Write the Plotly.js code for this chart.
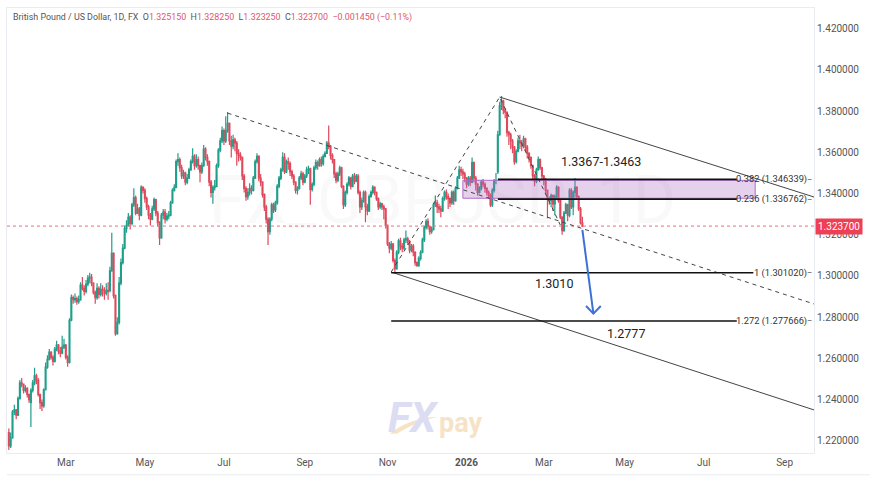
<!DOCTYPE html>
<html><head><meta charset="utf-8">
<script src="https://cdn.plot.ly/plotly-3.0.1.min.js"></script>
<style>html,body{margin:0;padding:0;background:#fff}#c{width:870px;height:481px}</style>
</head><body><div id="c"></div>
<script>
const firstDate = '2025-01-17';
const closes = [
1.2170,1.2210,1.2335,1.2345,1.2320,1.2400,1.2476,1.2470,1.2440,1.2450,
1.2420,1.2395,1.2440,1.2476,1.2510,1.2490,1.2420,1.2380,1.2365,1.2442,
1.2553,1.2590,1.2625,1.2600,1.2580,1.2640,1.2660,1.2630,1.2620,1.2650,
1.2660,1.2600,1.2575,1.2780,1.2890,1.2880,1.2885,1.2870,1.2880,1.2950,
1.2935,1.2920,1.2955,1.2985,1.2990,1.2960,1.2915,1.2890,1.2935,1.2905,
1.2930,1.2925,1.2910,1.2925,1.2920,1.3020,1.3105,1.2900,1.2715,1.2770,
1.2960,1.3060,1.3130,1.3225,1.3240,1.3280,1.3250,1.3340,1.3375,1.3300,
1.3320,1.3290,1.3425,1.3410,1.3370,1.3330,1.3290,1.3270,1.3320,1.3365,
1.3300,1.3255,1.3180,1.3290,1.3305,1.3270,1.3285,1.3290,1.3350,1.3410,
1.3425,1.3550,1.3560,1.3520,1.3480,1.3495,1.3450,1.3470,1.3510,1.3550,
1.3575,1.3530,1.3560,1.3530,1.3500,1.3530,1.3610,1.3570,1.3550,1.3450,
1.3400,1.3425,1.3430,1.3530,1.3605,1.3650,1.3700,1.3650,1.3700,1.3735,
1.3650,1.3625,1.3655,1.3640,1.3590,1.3580,1.3570,1.3480,1.3420,1.3380,
1.3400,1.3420,1.3410,1.3470,1.3550,1.3575,1.3470,1.3450,1.3390,1.3330,
1.3270,1.3210,1.3270,1.3340,1.3315,1.3350,1.3430,1.3470,1.3510,1.3570,
1.3500,1.3550,1.3540,1.3500,1.3480,1.3450,1.3410,1.3420,1.3470,1.3490,
1.3450,1.3480,1.3510,1.3515,1.3415,1.3440,1.3520,1.3545,1.3530,1.3560,
1.3540,1.3575,1.3590,1.3640,1.3625,1.3580,1.3560,1.3490,1.3460,1.3490,
1.3520,1.3430,1.3340,1.3400,1.3440,1.3470,1.3430,1.3480,1.3455,1.3480,
1.3400,1.3330,1.3360,1.3400,1.3330,1.3310,1.3380,1.3400,1.3425,1.3400,
1.3370,1.3330,1.3345,1.3330,1.3320,1.3240,1.3150,1.3130,1.3150,1.3070,
1.3030,1.3110,1.3165,1.3140,1.3130,1.3170,1.3175,1.3160,1.3120,1.3140,
1.3110,1.3060,1.3045,1.3080,1.3110,1.3170,1.3230,1.3260,1.3235,1.3210,
1.3220,1.3340,1.3350,1.3330,1.3320,1.3310,1.3370,1.3400,1.3380,1.3370,
1.3350,1.3400,1.3360,1.3420,1.3470,1.3510,1.3500,1.3490,1.3470,1.3440,
1.3470,1.3450,1.3545,1.3470,1.3440,1.3400,1.3420,1.3450,1.3440,1.3420,
1.3400,1.3385,1.3340,1.3410,1.3455,1.3455,1.3680,1.3820,1.3845,1.3800,
1.3790,1.3690,1.3680,1.3650,1.3620,1.3550,1.3600,1.3650,1.3640,1.3625,
1.3660,1.3620,1.3590,1.3570,1.3530,1.3480,1.3455,1.3510,1.3560,1.3520,
1.3480,1.3460,1.3410,1.3370,1.3360,1.3385,1.3345,1.3380,1.3425,1.3360,
1.3280,1.3215,1.3300,1.3340,1.3290,1.3410,1.3330,1.3400,1.3425,1.3380,1.3320,1.3252,1.3237];
const opens = [
1.2235,1.2170,1.2210,1.2335,1.2345,1.2320,1.2400,1.2476,1.2470,1.2440,
1.2450,1.2420,1.2380,1.2440,1.2476,1.2510,1.2490,1.2420,1.2380,1.2365,
1.2442,1.2553,1.2590,1.2625,1.2600,1.2580,1.2640,1.2660,1.2630,1.2620,
1.2650,1.2660,1.2600,1.2575,1.2780,1.2890,1.2880,1.2885,1.2870,1.2880,
1.2950,1.2935,1.2920,1.2955,1.2985,1.2990,1.2960,1.2915,1.2890,1.2935,
1.2905,1.2930,1.2925,1.2910,1.2925,1.2925,1.3020,1.3105,1.2900,1.2715,
1.2770,1.2960,1.3060,1.3130,1.3225,1.3240,1.3280,1.3250,1.3340,1.3375,
1.3300,1.3320,1.3290,1.3425,1.3410,1.3370,1.3330,1.3290,1.3270,1.3320,
1.3365,1.3300,1.3255,1.3180,1.3290,1.3305,1.3270,1.3285,1.3290,1.3350,
1.3410,1.3425,1.3550,1.3560,1.3520,1.3480,1.3495,1.3450,1.3470,1.3510,
1.3550,1.3575,1.3530,1.3560,1.3530,1.3500,1.3530,1.3610,1.3570,1.3550,
1.3450,1.3400,1.3425,1.3430,1.3530,1.3605,1.3650,1.3700,1.3650,1.3700,
1.3735,1.3650,1.3625,1.3655,1.3640,1.3590,1.3580,1.3570,1.3480,1.3420,
1.3380,1.3400,1.3420,1.3410,1.3470,1.3550,1.3575,1.3470,1.3450,1.3390,
1.3330,1.3270,1.3210,1.3270,1.3340,1.3315,1.3350,1.3430,1.3470,1.3510,
1.3570,1.3500,1.3550,1.3540,1.3500,1.3480,1.3450,1.3410,1.3420,1.3470,
1.3490,1.3450,1.3480,1.3510,1.3515,1.3415,1.3440,1.3520,1.3545,1.3530,
1.3560,1.3540,1.3575,1.3590,1.3640,1.3625,1.3580,1.3560,1.3490,1.3460,
1.3490,1.3520,1.3430,1.3340,1.3400,1.3440,1.3470,1.3430,1.3480,1.3455,
1.3480,1.3400,1.3330,1.3360,1.3400,1.3330,1.3310,1.3380,1.3400,1.3425,
1.3400,1.3370,1.3330,1.3345,1.3330,1.3320,1.3240,1.3150,1.3130,1.3150,
1.3070,1.3030,1.3110,1.3165,1.3140,1.3130,1.3170,1.3175,1.3160,1.3120,
1.3140,1.3110,1.3060,1.3045,1.3080,1.3110,1.3170,1.3230,1.3260,1.3235,
1.3210,1.3220,1.3340,1.3350,1.3330,1.3320,1.3310,1.3370,1.3400,1.3380,
1.3370,1.3350,1.3400,1.3360,1.3420,1.3470,1.3510,1.3500,1.3490,1.3470,
1.3440,1.3470,1.3450,1.3545,1.3470,1.3440,1.3400,1.3420,1.3450,1.3440,
1.3420,1.3400,1.3385,1.3340,1.3410,1.3455,1.3500,1.3680,1.3820,1.3845,
1.3800,1.3790,1.3690,1.3680,1.3650,1.3620,1.3550,1.3600,1.3650,1.3640,
1.3625,1.3660,1.3620,1.3590,1.3570,1.3530,1.3480,1.3455,1.3510,1.3560,
1.3520,1.3480,1.3460,1.3410,1.3370,1.3360,1.3385,1.3345,1.3380,1.3425,
1.3360,1.3280,1.3215,1.3300,1.3340,1.3290,1.3410,1.3330,1.3400,1.3425,1.3380,1.3320,1.32515];
const highs = [
1.2255,1.2235,1.2345,1.2370,1.2350,1.2410,1.2490,1.2500,1.2470,1.2465,
1.2455,1.2420,1.2450,1.2490,1.2550,1.2520,1.2500,1.2420,1.2395,1.2450,
1.2575,1.2610,1.2640,1.2630,1.2610,1.2650,1.2680,1.2665,1.2650,1.2705,
1.2690,1.2665,1.2610,1.2790,1.2905,1.2900,1.2910,1.2895,1.2900,1.2965,
1.2990,1.2950,1.2975,1.3000,1.3010,1.3005,1.2965,1.2925,1.2960,1.2945,
1.2960,1.2950,1.2940,1.2960,1.2965,1.3040,1.3205,1.3110,1.2905,1.2795,
1.2990,1.3080,1.3150,1.3240,1.3265,1.3300,1.3290,1.3350,1.3420,1.3385,
1.3345,1.3330,1.3435,1.3430,1.3420,1.3380,1.3340,1.3300,1.3335,1.3375,
1.3370,1.3310,1.3260,1.3300,1.3320,1.3320,1.3300,1.3310,1.3360,1.3420,
1.3440,1.3560,1.3590,1.3570,1.3535,1.3510,1.3500,1.3490,1.3520,1.3560,
1.3615,1.3585,1.3585,1.3575,1.3535,1.3545,1.3630,1.3620,1.3585,1.3555,
1.3460,1.3435,1.3460,1.3540,1.3615,1.3665,1.3720,1.3710,1.3770,1.3790,
1.3740,1.3675,1.3680,1.3665,1.3650,1.3610,1.3595,1.3575,1.3490,1.3430,
1.3420,1.3445,1.3435,1.3480,1.3560,1.3590,1.3580,1.3490,1.3455,1.3395,
1.3340,1.3280,1.3280,1.3350,1.3350,1.3360,1.3440,1.3480,1.3520,1.3595,
1.3590,1.3560,1.3570,1.3550,1.3510,1.3490,1.3455,1.3430,1.3480,1.3505,
1.3500,1.3490,1.3525,1.3530,1.3520,1.3450,1.3530,1.3560,1.3555,1.3570,
1.3575,1.3585,1.3600,1.3650,1.3725,1.3630,1.3590,1.3560,1.3500,1.3500,
1.3530,1.3525,1.3435,1.3410,1.3450,1.3480,1.3475,1.3490,1.3495,1.3490,
1.3490,1.3410,1.3375,1.3410,1.3410,1.3345,1.3390,1.3410,1.3435,1.3430,
1.3405,1.3375,1.3355,1.3350,1.3340,1.3325,1.3245,1.3160,1.3165,1.3155,
1.3080,1.3120,1.3175,1.3180,1.3155,1.3180,1.3215,1.3185,1.3170,1.3150,
1.3150,1.3115,1.3065,1.3090,1.3120,1.3180,1.3240,1.3270,1.3275,1.3240,
1.3235,1.3350,1.3385,1.3365,1.3345,1.3335,1.3380,1.3410,1.3415,1.3395,
1.3375,1.3410,1.3410,1.3430,1.3480,1.3530,1.3525,1.3515,1.3500,1.3475,
1.3480,1.3480,1.3570,1.3550,1.3480,1.3445,1.3430,1.3460,1.3465,1.3450,
1.3425,1.3410,1.3395,1.3420,1.3465,1.3495,1.3700,1.3840,1.3868,1.3850,
1.3810,1.3790,1.3700,1.3690,1.3660,1.3625,1.3610,1.3665,1.3680,1.3655,
1.3675,1.3665,1.3630,1.3595,1.3575,1.3535,1.3490,1.3520,1.3575,1.3565,
1.3525,1.3485,1.3470,1.3415,1.3380,1.3395,1.3390,1.3390,1.3435,1.3430,
1.3365,1.3285,1.3310,1.3350,1.3345,1.3420,1.3420,1.3410,1.3470,1.3430,1.3385,1.3330,1.32825];
const lows = [
1.2150,1.2160,1.2205,1.2320,1.2300,1.2315,1.2395,1.2455,1.2425,1.2430,
1.2405,1.2380,1.2262,1.2430,1.2465,1.2470,1.2410,1.2350,1.2340,1.2355,
1.2440,1.2545,1.2585,1.2590,1.2560,1.2575,1.2630,1.2615,1.2600,1.2615,
1.2640,1.2590,1.2555,1.2570,1.2775,1.2860,1.2865,1.2855,1.2860,1.2875,
1.2925,1.2900,1.2910,1.2945,1.2960,1.2945,1.2905,1.2860,1.2880,1.2885,
1.2895,1.2895,1.2880,1.2900,1.2880,1.2915,1.3015,1.2885,1.2705,1.2710,
1.2760,1.2950,1.3050,1.3125,1.3205,1.3235,1.3220,1.3240,1.3330,1.3290,
1.3295,1.3265,1.3285,1.3395,1.3350,1.3315,1.3270,1.3240,1.3265,1.3310,
1.3285,1.3235,1.3145,1.3175,1.3270,1.3250,1.3260,1.3270,1.3285,1.3345,
1.3405,1.3420,1.3530,1.3500,1.3465,1.3465,1.3435,1.3440,1.3465,1.3505,
1.3540,1.3510,1.3520,1.3510,1.3450,1.3490,1.3525,1.3555,1.3530,1.3430,
1.3375,1.3345,1.3410,1.3425,1.3520,1.3595,1.3640,1.3630,1.3640,1.3690,
1.3630,1.3570,1.3610,1.3600,1.3530,1.3550,1.3555,1.3460,1.3400,1.3360,
1.3365,1.3385,1.3390,1.3405,1.3465,1.3540,1.3455,1.3430,1.3375,1.3310,
1.3250,1.3145,1.3195,1.3260,1.3300,1.3305,1.3340,1.3420,1.3460,1.3500,
1.3490,1.3495,1.3510,1.3480,1.3465,1.3435,1.3395,1.3390,1.3415,1.3460,
1.3435,1.3445,1.3470,1.3490,1.3340,1.3405,1.3430,1.3510,1.3510,1.3525,
1.3525,1.3530,1.3570,1.3590,1.3610,1.3560,1.3540,1.3470,1.3445,1.3450,
1.3480,1.3420,1.3320,1.3330,1.3390,1.3430,1.3415,1.3425,1.3440,1.3450,
1.3390,1.3300,1.3315,1.3350,1.3255,1.3290,1.3305,1.3375,1.3390,1.3385,
1.3360,1.3315,1.3320,1.3315,1.3270,1.3225,1.3140,1.3105,1.3120,1.3060,
1.3010,1.3025,1.3100,1.3120,1.3110,1.3120,1.3155,1.3145,1.3105,1.3110,
1.3090,1.3045,1.3040,1.3040,1.3070,1.3105,1.3160,1.3220,1.3220,1.3195,
1.3200,1.3215,1.3330,1.3300,1.3300,1.3280,1.3305,1.3360,1.3365,1.3320,
1.3330,1.3340,1.3340,1.3355,1.3415,1.3465,1.3480,1.3465,1.3450,1.3420,
1.3430,1.3430,1.3445,1.3450,1.3410,1.3385,1.3395,1.3410,1.3425,1.3400,
1.3385,1.3370,1.3330,1.3330,1.3400,1.3440,1.3490,1.3675,1.3800,1.3780,
1.3760,1.3670,1.3630,1.3610,1.3590,1.3535,1.3540,1.3595,1.3610,1.3600,
1.3615,1.3600,1.3565,1.3545,1.3515,1.3465,1.3430,1.3445,1.3505,1.3510,
1.3460,1.3435,1.3390,1.3275,1.3340,1.3330,1.3310,1.3290,1.3370,1.3350,
1.3270,1.3195,1.3210,1.3295,1.3260,1.3280,1.3320,1.3290,1.3375,1.3370,1.3310,1.3245,1.32325];

const tickDates = ['2025-03-03','2025-05-01','2025-07-01','2025-09-01','2025-11-03','2026-01-01','2026-03-02','2026-05-01','2026-07-01','2026-09-01'];
const tickLabels = ['Mar','May','Jul','Sep','Nov','<b>2026</b>','Mar','May','Jul','Sep'];
const lastPrice = 1.3237;
const trendX = ['2025-07-03','2026-09-23'];      const trendY = [1.3785,1.2859];
const legUpX = ['2025-11-05','2026-01-27','2026-03-13']; const legUpY = [1.3014,1.3863,1.3242];
const chanTopX = ['2026-01-27','2026-09-23'];    const chanTopY = [1.3863,1.3378];
const chanLowX = ['2025-11-05','2026-09-23'];    const chanLowY = [1.3014,1.2345];
const fibLevels = [
  {x:['2026-01-26','2026-07-27'], y:1.346339, label:'0.382 (1.346339)'},
  {x:['2026-01-26','2026-07-27'], y:1.336762, label:'0.236 (1.336762)'},
  {x:['2025-11-05','2026-08-07'], y:1.301020, label:'1 (1.301020)'},
  {x:['2025-11-05','2026-07-27'], y:1.277666, label:'1.272 (1.277666)'}];
const zoneX = ['2025-12-30','2026-08-10','2026-08-10','2025-12-30','2025-12-30'];
const zoneY = [1.3459,1.3459,1.3372,1.3372,1.3459];
const arrowX = ['2026-03-31','2026-04-08'];      const arrowY = [1.3218,1.2812];
const headX = ['2026-04-02','2026-04-08','2026-04-14']; const headY = [1.2849,1.2812,1.2849];

const dates = [];
for (let d = new Date(firstDate + 'T00:00:00Z'); dates.length < closes.length; d = new Date(d.getTime() + 864e5)) {
  if (d.getUTCDay() % 6 !== 0) dates.push(d.toISOString().slice(0,10));
}

const font = 'Roboto, "Noto Sans", sans-serif';
const line = (x,y,color,width,dash) => ({type:'scatter',mode:'lines',x,y,hoverinfo:'skip',line:{color,width,dash:dash||'solid'}});
const xEnd = ['2025-01-16','2026-09-23'];
const traces = [
  {type:'candlestick',x:dates,open:opens,high:highs,low:lows,close:closes,hoverinfo:'skip',
   whiskerwidth:0,
   increasing:{line:{color:'#1f9e8a',width:1.2},fillcolor:'#1f9e8a'},
   decreasing:{line:{color:'#e0485c',width:1.2},fillcolor:'#e0485c'}},
  {type:'scatter',mode:'lines',x:zoneX,y:zoneY,fill:'toself',fillcolor:'rgba(178,112,200,0.32)',hoverinfo:'skip',line:{color:'#b06cc8',width:1}},
  line(xEnd,[lastPrice,lastPrice],'#e8707f',1,'dot'),
  line(trendX,trendY,'#444',1,'4px,4px'),
  line(legUpX,legUpY,'#444',1,'4px,4px'),
  line(chanTopX,chanTopY,'#444',1),
  line(chanLowX,chanLowY,'#444',1)
];
fibLevels.forEach(f => traces.push(line(f.x,[f.y,f.y],'#111',1.6)));
traces.push(line(arrowX,arrowY,'#3d71d6',2));
traces.push(line(headX,headY,'#3d71d6',2));

const annotations = [
  {xref:'paper',yref:'paper',x:0.5,y:1,xshift:32,yshift:-192,xanchor:'center',yanchor:'middle',showarrow:false,text:'FX_GBPUSD, 1D',font:{family:font,size:66,color:'rgba(0,0,0,0.022)'}},
  {xref:'paper',yref:'paper',x:0.5,y:1,xshift:8,yshift:-259,xanchor:'center',yanchor:'middle',showarrow:false,text:'British Pound / US Dollar',font:{family:font,size:37,color:'rgba(0,0,0,0.022)'}},
  {xref:'paper',yref:'paper',x:0,y:1,xshift:4,yshift:-2,xanchor:'left',yanchor:'top',showarrow:false,align:'left',
   text:'British Pound / US Dollar, 1D, FX  O<span style="color:#e0566a">1.325150</span>  H<span style="color:#e0566a">1.328250</span>  L<span style="color:#e0566a">1.323250</span>  C<span style="color:#e0566a">1.323700</span>  <span style="color:#e0566a">−0.001450 (−0.11%)</span>',
   font:{family:font,size:8.9,color:'#555'}},
  {xref:'paper',yref:'y',x:1,y:lastPrice,xshift:1,xanchor:'left',yanchor:'middle',showarrow:false,text:'1.323700',bgcolor:'#ee3f55',borderpad:2,font:{family:font,size:10,color:'#fff'}},
  {xref:'x',yref:'y',x:'2026-04-01',y:1.3552,xanchor:'center',yanchor:'middle',showarrow:false,xshift:17,text:'1.3367-1.3463',font:{family:font,size:12.5,color:'#222'}},
  {xref:'x',yref:'y',x:'2026-03-02',y:1.2958,xanchor:'center',yanchor:'middle',showarrow:false,xshift:10,text:'1.3010',font:{family:font,size:12.5,color:'#222'}},
  {xref:'x',yref:'y',x:'2026-04-01',y:1.2718,xanchor:'center',yanchor:'middle',showarrow:false,xshift:42,text:'1.2777',font:{family:font,size:12.5,color:'#222'}},
  {xref:'paper',yref:'paper',x:0,y:0,xshift:379,yshift:9,xanchor:'left',yanchor:'bottom',showarrow:false,text:'<b><i>FX</i></b>',font:{family:font,size:42,color:'#dcdcf2'}},
  {xref:'paper',yref:'paper',x:0,y:0,xshift:430,yshift:12,xanchor:'left',yanchor:'bottom',showarrow:false,text:'<b>pay</b>',font:{family:font,size:27,color:'#f6e3c6'}}
];
fibLevels.forEach(f => {
  annotations.push({xref:'paper',yref:'y',x:1,y:f.y,xshift:-5,xanchor:'right',yanchor:'middle',showarrow:false,text:f.label,font:{family:font,size:9.3,color:'#333'}});
  annotations.push({xref:'paper',yref:'y',x:1,y:f.y,xanchor:'right',yanchor:'middle',showarrow:false,text:'–',font:{family:font,size:8,color:'#333'}});
});

const layout = {
  width:870,height:481,paper_bgcolor:'#fff',plot_bgcolor:'#fff',showlegend:false,
  margin:{l:7,r:56,t:8,b:28},
  xaxis:{type:'date',range:xEnd,rangebreaks:[{bounds:['sat','mon']}],rangeslider:{visible:false},
    tickmode:'array',tickvals:tickDates,ticktext:tickLabels,ticks:'',showgrid:false,zeroline:false,
    showline:true,mirror:true,linecolor:'#e9edf1',linewidth:1,tickfont:{family:font,size:10,color:'#555'}},
  yaxis:{side:'right',range:[1.2136,1.4295],tick0:1.22,dtick:0.02,tickformat:'.6f',ticks:'',showgrid:false,zeroline:false,ticklabelshift:1,
    showline:true,mirror:true,linecolor:'#e9edf1',linewidth:1,tickfont:{family:font,size:10,color:'#555'}},
  shapes:[
    {type:'line',xref:'paper',yref:'paper',x0:0,x1:1.07,y0:-0.049,y1:-0.049,line:{color:'#e9edf1',width:1}},
    {type:'path',xref:'paper',yref:'paper',layer:'above',path:'M0.474,0.043 Q0.50,0.08 0.533,0.081 Q0.505,0.07 0.483,0.043 Z',fillcolor:'#f6e3c6',line:{width:0}}
  ],
  annotations
};
Plotly.newPlot('c',traces,layout,{displayModeBar:false,staticPlot:true});
</script></body></html>
